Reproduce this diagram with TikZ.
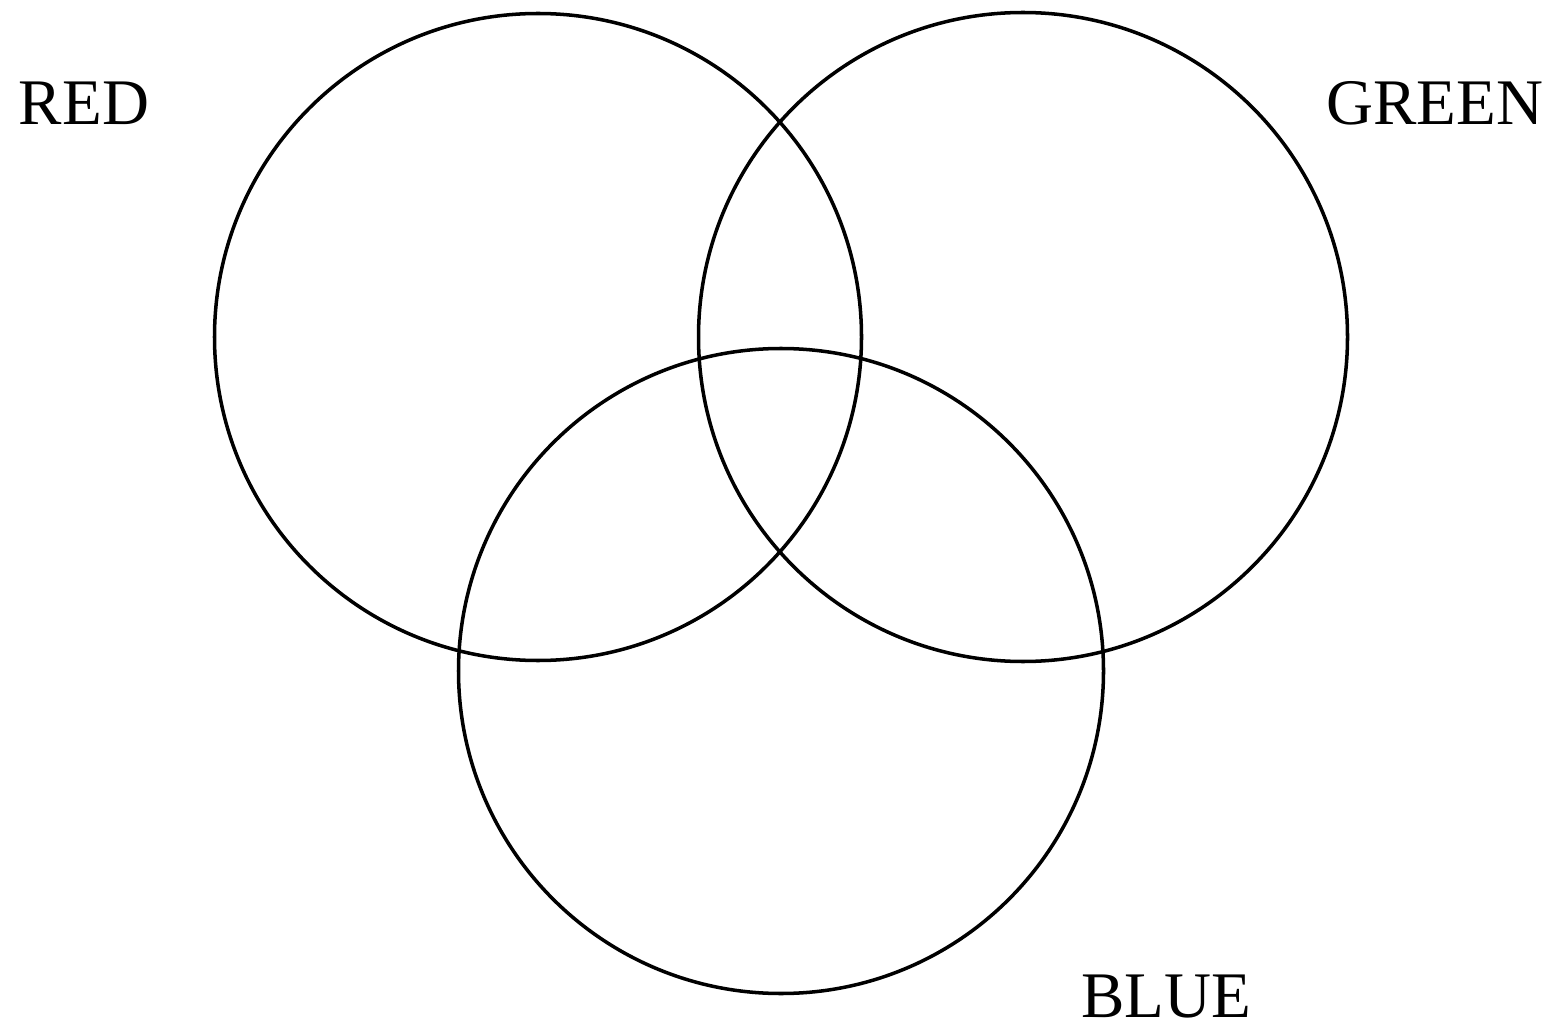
\documentclass[tikz,border=0pt]{standalone}
\usepackage{fontspec}
\setmainfont{Liberation Serif}
\begin{document}
\begin{tikzpicture}[
  ring/.style={draw=black, line width=1pt},
  lbl/.style={inner sep=0pt, font=\fontsize{18.5}{22}\selectfont}
]
\useasboundingbox (0,0) rectangle (15.5,10.27);
\coordinate (cr) at (5.38,6.90);
\coordinate (cg) at (10.23,6.90);
\coordinate (cb) at (7.81,3.56);
\draw[ring] (cr) circle (3.235);
\draw[ring] (cg) circle (3.245);
\draw[ring] (cb) circle (3.225);
\node[lbl] (red) at (0.84,9.24) {RED};
\node[lbl] (green) at (14.35,9.24) {GREEN};
\node[lbl] (blue) at (11.66,0.30) {BLUE};
\end{tikzpicture}
\end{document}
